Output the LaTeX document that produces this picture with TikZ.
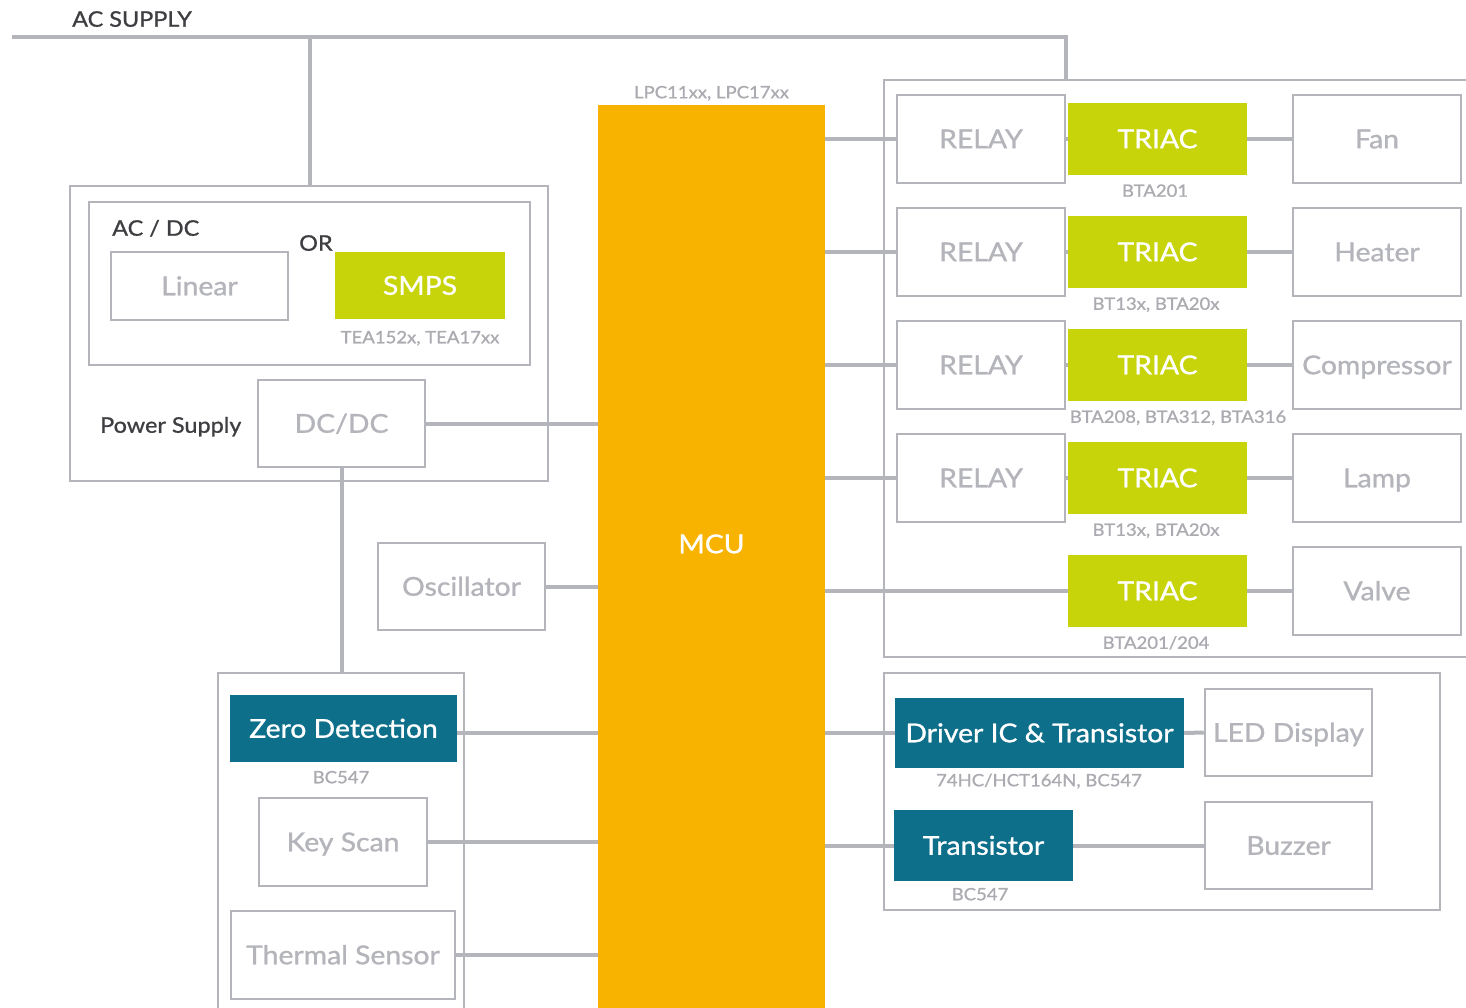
\documentclass[tikz,border=0pt]{standalone}
\usepackage{fontspec}
\setmainfont{Lato}[FakeStretch=1.09, FakeBold=1.0]
\definecolor{lg}{RGB}{180,181,187}
\definecolor{lbl}{RGB}{170,170,176}
\definecolor{dk}{RGB}{62,62,66}
\definecolor{triac}{RGB}{200,212,10}
\definecolor{mcuor}{RGB}{248,178,0}
\definecolor{teal}{RGB}{14,111,138}
\begin{document}
\begin{tikzpicture}[x=1pt,y=-1pt,
  conn/.style={draw=lg, line width=4pt},
  framel/.style={draw=lg, line width=2.5pt},
  bigfont/.style={font=\fontsize{26}{28}\selectfont, text height=18.5pt, text depth=0pt, inner sep=0pt},
  gbox/.style={bigfont, draw=lg, line width=2.5pt, fill=white, text=lg},
  grn/.style={bigfont, fill=triac, text=white},
  tl/.style={bigfont, fill=teal, text=white},
  part/.style={text=lbl, font=\fontsize{17}{19}\selectfont, text height=12.5pt, text depth=0pt, inner sep=0pt},
  dark/.style={text=dk, font=\fontsize{21.5}{24}\selectfont, text height=15.5pt, text depth=0pt, inner sep=0pt, anchor=west},
  sz/.style 2 args={minimum width=#1pt, minimum height=#2pt}
]
\useasboundingbox (0,0) rectangle (1466,1008);

% ---------- frames ----------
\node[framel, sz={478}{295}] (ps) at (309,333.5) {};
\node[framel, sz={441}{163}] (acdc) at (309.5,283.5) {};
\draw[framel] (1466,80) -- (884,80) -- (884,657) -- (1466,657);
\draw[framel] (218,1012) -- (218,673) -- (464,673) -- (464,1012);
\node[framel, sz={556}{237}] (brf) at (1162,791.5) {};

% ---------- AC supply ----------
\node[dark] (acs) at (72,19) {AC SUPPLY};
\coordinate (acL) at (12,37);
\coordinate (acM) at (310,37);
\coordinate (acR) at (1066,37);
\coordinate (rfTop) at (1066,80);
\draw[conn] (acL) -- (acR) -- (rfTop);
\draw[conn] (acM) -- (acM |- ps.north);

% ---------- power supply ----------
\node[dark] (acdcl) at (112,228) {AC / DC};
\node[dark] (orl) at (299,243) {OR};
\node[gbox, sz={177}{68}] (lin) at (199.5,286) {Linear};
\node[grn, sz={170}{67}] (smps) at (420,285.5) {SMPS};
\node[part] (smpsp) at (420,337) {TEA152x, TEA17xx};
\node[dark] (psl) at (100,425) {Power Supply};
\node[gbox, sz={167}{87}] (dcdc) at (341.5,423.5) {DC/DC};

% ---------- MCU ----------
\node[fill=mcuor, sz={227}{904}, inner sep=0pt] (mcu) at (711.5,557) {};
\node[bigfont, text=white] (mcut) at (711.5,544) {MCU};
\node[part] (mcup) at (711.5,92) {LPC11xx, LPC17xx};

\node[gbox, sz={167}{87}] (osc) at (461.5,586.5) {Oscillator};

% ---------- left bottom ----------
\coordinate (llt) at (341.5,673);
\node[tl, sz={227}{67}] (zd) at (343.5,728.5) {Zero Detection};
\node[part] (zdp) at (341,777) {BC547};
\node[gbox, sz={168}{88}] (ks) at (343,842) {Key Scan};
\node[gbox, sz={224}{88}] (th) at (343,955) {Thermal Sensor};
\coordinate (zdo) at (457,733);

% ---------- right rows ----------
\foreach \i/\y/\load in {1/139/Fan, 2/252/Heater, 3/365/Compressor, 4/478/Lamp, 5/591/Valve}{
  \node[grn, sz={179}{72}] (t\i) at (1157.5,\y) {TRIAC};
  \node[gbox, sz={168}{88}] (ld\i) at (1377,\y) {\load};
}
\node[part] (tp1) at (1155,190.5) {BTA201};
\node[part] (tp2) at (1156,303.5) {BT13x, BTA20x};
\node[part] (tp3) at (1178,416.5) {BTA208, BTA312, BTA316};
\node[part] (tp4) at (1156,529.5) {BT13x, BTA20x};
\node[part] (tp5) at (1156,642.5) {BTA201/204};
\foreach \i/\y in {1/139, 2/252, 3/365, 4/478}{
  \node[gbox, sz={168}{88}] (r\i) at (981,\y) {RELAY};
}

% ---------- right bottom ----------
\node[tl, sz={289}{70}] (drv) at (1039.5,733) {Driver IC \& Transistor};
\node[gbox, sz={167}{87}] (led) at (1288.5,732.5) {LED Display};
\node[part] (drvp) at (1039,780) {74HC/HCT164N, BC547};
\node[tl, sz={179}{71}] (tr) at (983.5,845.5) {Transistor};
\node[part] (trp) at (980,894) {BC547};
\node[gbox, sz={167}{87}] (bz) at (1288.5,845.5) {Buzzer};

% ---------- connectors ----------
\draw[conn] (dcdc.east) -- (dcdc.east -| mcu.west);
\draw[conn] (dcdc.south) -- (llt);
\draw[conn] (osc.east) -- (osc.east -| mcu.west);
\draw[conn] (zdo) -- (zdo -| mcu.west);
\draw[conn] (ks.east) -- (ks.east -| mcu.west);
\draw[conn] (th.east) -- (th.east -| mcu.west);
\foreach \i in {1,2,3,4}{
  \draw[conn] (mcu.east |- r\i.west) -- (r\i.west);
  \draw[conn] (r\i.east) -- (t\i.west);
}
\draw[conn] (mcu.east |- t5.west) -- (t5.west);
\foreach \i in {1,...,5}{
  \draw[conn] (t\i.east) -- (ld\i.west);
}
\draw[conn] (mcu.east |- drv.west) -- (drv.west);
\draw[conn] (drv.east) -- (led.west);
\draw[conn] (mcu.east |- tr.west) -- (tr.west);
\draw[conn] (tr.east) -- (bz.west);
\end{tikzpicture}
\end{document}
